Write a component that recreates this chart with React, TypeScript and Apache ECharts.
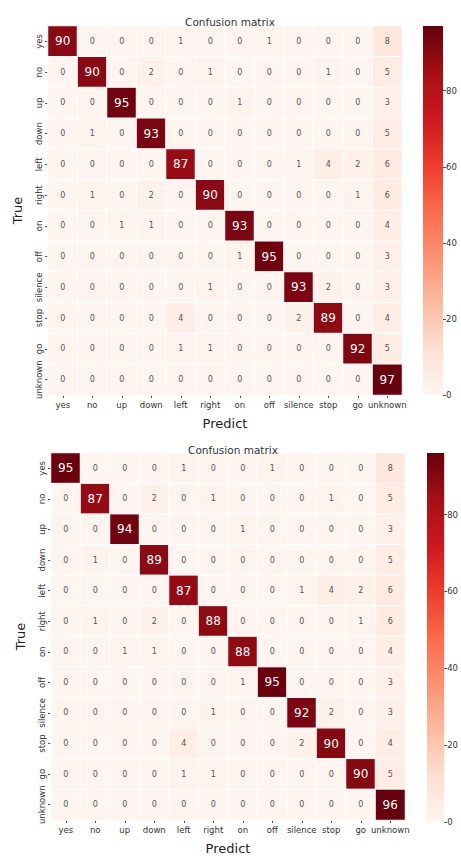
import React, { useEffect, useRef } from "react";
import * as echarts from "echarts";

const categories = ["yes", "no", "up", "down", "left", "right", "on", "off", "silence", "stop", "go", "unknown"];

const matrixTop: number[][] = [
  [90, 0, 0, 0, 1, 0, 0, 1, 0, 0, 0, 8],
  [0, 90, 0, 2, 0, 1, 0, 0, 0, 1, 0, 5],
  [0, 0, 95, 0, 0, 0, 1, 0, 0, 0, 0, 3],
  [0, 1, 0, 93, 0, 0, 0, 0, 0, 0, 0, 5],
  [0, 0, 0, 0, 87, 0, 0, 0, 1, 4, 2, 6],
  [0, 1, 0, 2, 0, 90, 0, 0, 0, 0, 1, 6],
  [0, 0, 1, 1, 0, 0, 93, 0, 0, 0, 0, 4],
  [0, 0, 0, 0, 0, 0, 1, 95, 0, 0, 0, 3],
  [0, 0, 0, 0, 0, 1, 0, 0, 93, 2, 0, 3],
  [0, 0, 0, 0, 4, 0, 0, 0, 2, 89, 0, 4],
  [0, 0, 0, 0, 1, 1, 0, 0, 0, 0, 92, 5],
  [0, 0, 0, 0, 0, 0, 0, 0, 0, 0, 0, 97],
];

const matrixBottom: number[][] = [
  [95, 0, 0, 0, 1, 0, 0, 1, 0, 0, 0, 8],
  [0, 87, 0, 2, 0, 1, 0, 0, 0, 1, 0, 5],
  [0, 0, 94, 0, 0, 0, 1, 0, 0, 0, 0, 3],
  [0, 1, 0, 89, 0, 0, 0, 0, 0, 0, 0, 5],
  [0, 0, 0, 0, 87, 0, 0, 0, 1, 4, 2, 6],
  [0, 1, 0, 2, 0, 88, 0, 0, 0, 0, 1, 6],
  [0, 0, 1, 1, 0, 0, 88, 0, 0, 0, 0, 4],
  [0, 0, 0, 0, 0, 0, 1, 95, 0, 0, 0, 3],
  [0, 0, 0, 0, 0, 1, 0, 0, 92, 2, 0, 3],
  [0, 0, 0, 0, 4, 0, 0, 0, 2, 90, 0, 4],
  [0, 0, 0, 0, 1, 1, 0, 0, 0, 0, 90, 5],
  [0, 0, 0, 0, 0, 0, 0, 0, 0, 0, 0, 96],
];

const colorbarTicks = [0, 20, 40, 60, 80];

const titleText = "Confusion matrix";
const xName = "Predict";
const yName = "True";

const REDS = ["#fff5f0", "#fee0d2", "#fcbba1", "#fc9272", "#fb6a4a", "#ef3b2c", "#cb181d", "#a50f15", "#67000d"];
const FONT = "DejaVu Sans";

function toData(m: number[][], max: number) {
  const out: any[] = [];
  m.forEach((row, r) =>
    row.forEach((v, c) => {
      const dark = v > max * 0.5;
      out.push({
        value: [c, r, v],
        label: dark
          ? { color: "#ffffff", fontSize: 12 }
          : { color: "#555555", fontSize: 8 },
      });
    })
  );
  return out;
}

export default function App() {
  const ref = useRef<HTMLDivElement>(null);
  useEffect(() => {
    if (!ref.current) return;
    const chart = echarts.init(ref.current, undefined, { renderer: "svg" });
    const maxTop = Math.max(...matrixTop.flat());
    const maxBottom = Math.max(...matrixBottom.flat());

    const grids = [
      { left: 48, top: 26, width: 354, height: 369 },
      { left: 51, top: 453, width: 354, height: 369 },
    ];
    const bars = [
      { left: 423, top: 26, width: 20, height: 369 },
      { left: 427, top: 453, width: 19, height: 369 },
    ];

    const catX = (gi: number) => ({
      type: "category",
      gridIndex: gi,
      data: categories,
      position: "bottom",
      axisLine: { show: false },
      axisTick: { show: true, alignWithLabel: true, length: 3, lineStyle: { color: "#555" } },
      axisLabel: { fontFamily: FONT, fontSize: 8.5, color: "#333", margin: 5, interval: 0 },
      splitLine: { show: false },
      name: xName,
      nameLocation: "middle",
      nameGap: 22,
      nameTextStyle: { fontFamily: FONT, fontSize: 13, color: "#222" },
    });
    const catY = (gi: number) => ({
      type: "category",
      gridIndex: gi,
      data: categories,
      inverse: true,
      axisLine: { show: false },
      axisTick: { show: true, alignWithLabel: true, length: 3, lineStyle: { color: "#555" } },
      axisLabel: { fontFamily: FONT, fontSize: 8.5, color: "#333", margin: 5, rotate: 90, interval: 0 },
      splitLine: { show: false },
      name: yName,
      nameLocation: "middle",
      nameGap: 24,
      nameRotate: 90,
      nameTextStyle: { fontFamily: FONT, fontSize: 13, color: "#222" },
    });
    const barX = (gi: number) => ({
      type: "category",
      gridIndex: gi,
      data: [""],
      show: false,
    });
    const barY = (gi: number, max: number) => ({
      type: "value",
      gridIndex: gi,
      min: 0,
      max,
      position: "right",
      axisLine: { show: false },
      axisTick: { show: true, length: 3, lineStyle: { color: "#555" }, customValues: colorbarTicks },
      axisLabel: { fontFamily: FONT, fontSize: 8.5, color: "#333", margin: 3, customValues: colorbarTicks },
      splitLine: { show: false },
    });
    const gradient = () =>
      new echarts.graphic.LinearGradient(
        0,
        1,
        0,
        0,
        REDS.map((c, i) => ({ offset: i / (REDS.length - 1), color: c }))
      );

    chart.setOption({
      animation: false,
      backgroundColor: "#ffffff",
      textStyle: { fontFamily: FONT },
      title: [
        { text: titleText, left: 225, top: 11, textAlign: "center", textStyle: { fontFamily: FONT, fontSize: 10.5, fontWeight: "normal", color: "#333" } },
        { text: titleText, left: 228, top: 439, textAlign: "center", textStyle: { fontFamily: FONT, fontSize: 10.5, fontWeight: "normal", color: "#333" } },
      ],
      grid: [...grids, ...bars],
      xAxis: [catX(0), catX(1), barX(2), barX(3)],
      yAxis: [catY(0), catY(1), barY(2, maxTop), barY(3, maxBottom)],
      visualMap: [
        { show: false, type: "continuous", min: 0, max: maxTop, seriesIndex: 0, dimension: 2, inRange: { color: REDS } },
        { show: false, type: "continuous", min: 0, max: maxBottom, seriesIndex: 1, dimension: 2, inRange: { color: REDS } },
      ],
      series: [
        {
          type: "heatmap",
          xAxisIndex: 0,
          yAxisIndex: 0,
          data: toData(matrixTop, maxTop),
          label: { show: true, fontFamily: FONT },
          itemStyle: { borderColor: "#ffffff", borderWidth: 1 },
          emphasis: { disabled: true },
        },
        {
          type: "heatmap",
          xAxisIndex: 1,
          yAxisIndex: 1,
          data: toData(matrixBottom, maxBottom),
          label: { show: true, fontFamily: FONT },
          itemStyle: { borderColor: "#ffffff", borderWidth: 1 },
          emphasis: { disabled: true },
        },
        {
          type: "bar",
          xAxisIndex: 2,
          yAxisIndex: 2,
          data: [maxTop],
          barWidth: "100%",
          itemStyle: { color: gradient() },
          silent: true,
        },
        {
          type: "bar",
          xAxisIndex: 3,
          yAxisIndex: 3,
          data: [maxBottom],
          barWidth: "100%",
          itemStyle: { color: gradient() },
          silent: true,
        },
      ],
    });
    return () => chart.dispose();
  }, []);
  return (
    <div
      ref={ref}
      style={{ position: "fixed", left: 0, top: 0, width: 461, height: 856, background: "#fff" }}
    />
  );
}
